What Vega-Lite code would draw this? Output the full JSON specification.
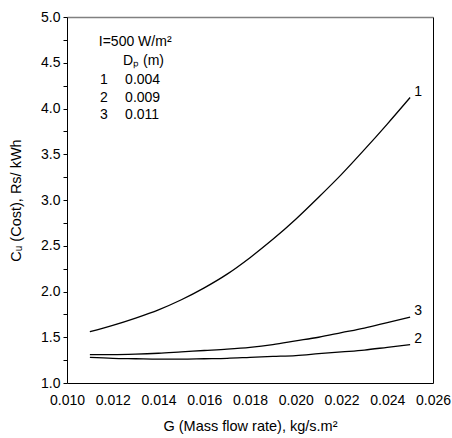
{
  "$schema": "https://vega.github.io/schema/vega-lite/v6.json",
  "width": 366,
  "height": 366,
  "autosize": "none",
  "padding": {"left": 67, "top": 17, "right": 19, "bottom": 55},
  "background": "white",
  "config": {
    "view": {"stroke": null},
    "font": "Liberation Sans",
    "axis": {"labelFont": "Liberation Sans", "titleFont": "Liberation Sans", "labelFontSize": 14, "titleFontSize": 14.5, "titleFontWeight": "normal", "labelColor": "black", "titleColor": "black", "grid": false}
  },
  "datasets": {
    "curves": [
      {"G": 0.011, "Cu": 1.56, "curve": "1"},
      {"G": 0.012, "Cu": 1.63, "curve": "1"},
      {"G": 0.013, "Cu": 1.71, "curve": "1"},
      {"G": 0.014, "Cu": 1.80, "curve": "1"},
      {"G": 0.015, "Cu": 1.91, "curve": "1"},
      {"G": 0.016, "Cu": 2.04, "curve": "1"},
      {"G": 0.017, "Cu": 2.19, "curve": "1"},
      {"G": 0.018, "Cu": 2.37, "curve": "1"},
      {"G": 0.019, "Cu": 2.57, "curve": "1"},
      {"G": 0.020, "Cu": 2.79, "curve": "1"},
      {"G": 0.021, "Cu": 3.03, "curve": "1"},
      {"G": 0.022, "Cu": 3.28, "curve": "1"},
      {"G": 0.023, "Cu": 3.55, "curve": "1"},
      {"G": 0.024, "Cu": 3.83, "curve": "1"},
      {"G": 0.025, "Cu": 4.12, "curve": "1"},
      {"G": 0.011, "Cu": 1.28, "curve": "2"},
      {"G": 0.012, "Cu": 1.27, "curve": "2"},
      {"G": 0.013, "Cu": 1.265, "curve": "2"},
      {"G": 0.014, "Cu": 1.26, "curve": "2"},
      {"G": 0.015, "Cu": 1.26, "curve": "2"},
      {"G": 0.016, "Cu": 1.265, "curve": "2"},
      {"G": 0.017, "Cu": 1.27, "curve": "2"},
      {"G": 0.018, "Cu": 1.28, "curve": "2"},
      {"G": 0.019, "Cu": 1.29, "curve": "2"},
      {"G": 0.020, "Cu": 1.30, "curve": "2"},
      {"G": 0.021, "Cu": 1.32, "curve": "2"},
      {"G": 0.022, "Cu": 1.34, "curve": "2"},
      {"G": 0.023, "Cu": 1.36, "curve": "2"},
      {"G": 0.024, "Cu": 1.39, "curve": "2"},
      {"G": 0.025, "Cu": 1.42, "curve": "2"},
      {"G": 0.011, "Cu": 1.31, "curve": "3"},
      {"G": 0.012, "Cu": 1.31, "curve": "3"},
      {"G": 0.013, "Cu": 1.315, "curve": "3"},
      {"G": 0.014, "Cu": 1.325, "curve": "3"},
      {"G": 0.015, "Cu": 1.34, "curve": "3"},
      {"G": 0.016, "Cu": 1.355, "curve": "3"},
      {"G": 0.017, "Cu": 1.37, "curve": "3"},
      {"G": 0.018, "Cu": 1.39, "curve": "3"},
      {"G": 0.019, "Cu": 1.42, "curve": "3"},
      {"G": 0.020, "Cu": 1.46, "curve": "3"},
      {"G": 0.021, "Cu": 1.50, "curve": "3"},
      {"G": 0.022, "Cu": 1.55, "curve": "3"},
      {"G": 0.023, "Cu": 1.60, "curve": "3"},
      {"G": 0.024, "Cu": 1.66, "curve": "3"},
      {"G": 0.025, "Cu": 1.72, "curve": "3"}
    ],
    "notes": [
      {"G": 0.01139, "Cu": 4.73, "text": "I=500 W/m²"},
      {"G": 0.01245, "Cu": 4.52, "text": "Dₚ (m)"},
      {"G": 0.01144, "Cu": 4.31, "text": "1"},
      {"G": 0.01254, "Cu": 4.31, "text": "0.004"},
      {"G": 0.01144, "Cu": 4.12, "text": "2"},
      {"G": 0.01254, "Cu": 4.12, "text": "0.009"},
      {"G": 0.01144, "Cu": 3.93, "text": "3"},
      {"G": 0.01254, "Cu": 3.93, "text": "0.011"}
    ]
  },
  "layer": [
    {
      "data": {"name": "curves"},
      "mark": {"type": "line", "color": "black", "strokeWidth": 1.3, "interpolate": "monotone"},
      "encoding": {
        "x": {"field": "G", "type": "quantitative",
          "scale": {"domain": [0.010, 0.026], "nice": false, "zero": false},
          "axis": {"orient": "bottom", "title": "G (Mass flow rate), kg/s.m²",
            "values": [0.010,0.0105,0.011,0.0115,0.012,0.0125,0.013,0.0135,0.014,0.0145,0.015,0.0155,0.016,0.0165,0.017,0.0175,0.018,0.0185,0.019,0.0195,0.020,0.0205,0.021,0.0215,0.022,0.0225,0.023,0.0235,0.024,0.0245,0.025,0.0255,0.026],
            "labelExpr": "round(datum.value*2000) % 4 == 0 ? format(datum.value, '.3f') : ''",
            "tickSize": 0,
            "encode": {"ticks": {"update": {"y2": {"signal": "round(datum.value*2000) % 4 == 0 ? -7 : -4"}}}},
            "tickColor": "black", "domainColor": "black", "labelPadding": 10, "titlePadding": 12,
            "labelFlush": false, "labelOverlap": false}},
        "y": {"field": "Cu", "type": "quantitative",
          "scale": {"domain": [1.0, 5.0], "nice": false, "zero": false},
          "axis": {"orient": "left", "title": "Cᵤ (Cost), Rs/ kWh",
            "values": [1.0,1.25,1.5,1.75,2.0,2.25,2.5,2.75,3.0,3.25,3.5,3.75,4.0,4.25,4.5,4.75,5.0],
            "labelExpr": "round(datum.value*4) % 2 == 0 ? format(datum.value, '.1f') : ''",
            "tickSize": 4,
            "encode": {"ticks": {"update": {"x2": {"signal": "round(datum.value*4) % 2 == 0 ? -4 : 3"}}}},
            "tickColor": "black", "domainColor": "black", "labelPadding": 3, "titlePadding": 17,
            "labelFlush": false, "labelOverlap": false}},
        "detail": {"field": "curve"}
      }
    },
    {
      "data": {"name": "curves"},
      "transform": [{"filter": "datum.G == 0.025"}],
      "mark": {"type": "text", "align": "left", "baseline": "middle", "dx": 4, "dy": -6, "fontSize": 14, "color": "black", "font": "Liberation Sans"},
      "encoding": {
        "x": {"field": "G", "type": "quantitative", "axis": {"orient": "top", "labels": false, "ticks": false, "title": null, "domainColor": "#808080", "domainWidth": 1.5}},
        "y": {"field": "Cu", "type": "quantitative", "axis": {"orient": "right", "labels": false, "ticks": false, "title": null, "domainColor": "black"}},
        "text": {"field": "curve"}
      }
    },
    {
      "data": {"name": "notes"},
      "mark": {"type": "text", "align": "left", "baseline": "middle", "fontSize": 14, "color": "black", "font": "Liberation Sans"},
      "encoding": {
        "x": {"field": "G", "type": "quantitative", "axis": null},
        "y": {"field": "Cu", "type": "quantitative", "axis": null},
        "text": {"field": "text"}
      }
    }
  ],
  "resolve": {"axis": {"x": "independent", "y": "independent"}}
}
